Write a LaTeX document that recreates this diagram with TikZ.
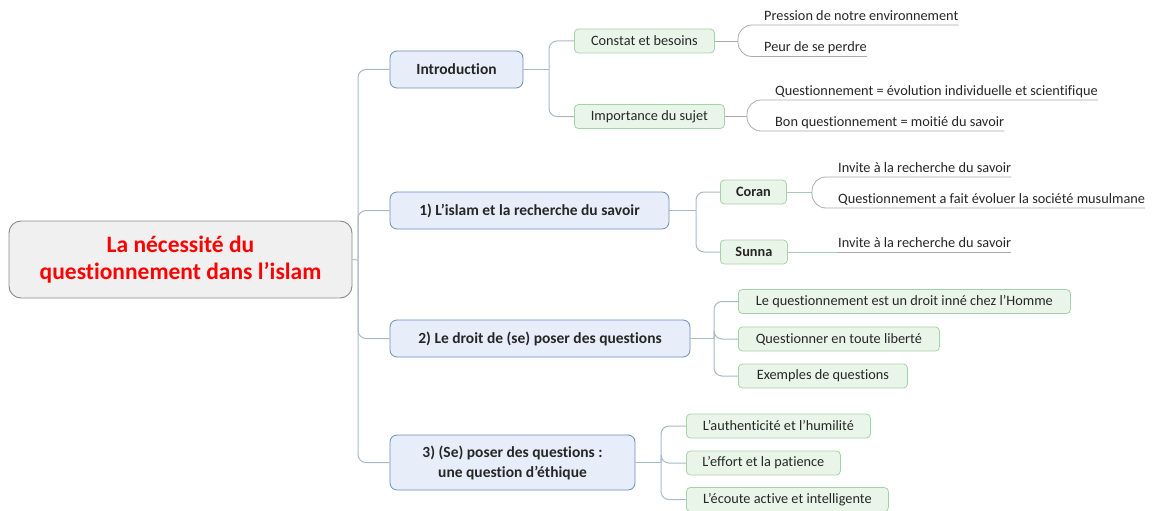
\documentclass[tikz,border=0pt]{standalone}
\usepackage{fontspec}
\setmainfont{Carlito}[Ligatures=NoCommon]
\usetikzlibrary{positioning}
\definecolor{rootfill}{HTML}{F0F0F0}
\definecolor{rootedge}{HTML}{8A8A8A}
\definecolor{secfill}{HTML}{E7EEF9}
\definecolor{secedge}{HTML}{6A8DBA}
\definecolor{subfill}{HTML}{EAF5EA}
\definecolor{subedge}{HTML}{A6D2A8}
\definecolor{trunkcol}{HTML}{A9B8C9}
\definecolor{subline}{HTML}{A8CDB4}
\definecolor{leafcol}{HTML}{ABABAB}
\definecolor{inkcol}{HTML}{262626}
\tikzset{
  rootbox/.style={draw=rootedge,fill=rootfill,line width=0.9pt,rounded corners=12pt,
    minimum width=343,minimum height=77,align=center,text=red,
    font=\bfseries\fontsize{23.5}{27}\selectfont},
  secbox/.style={draw=secedge,fill=secfill,line width=0.8pt,rounded corners=7pt,
    minimum height=37,align=center,text=inkcol,font=\bfseries\fontsize{15.5}{20}\selectfont},
  subbox/.style={draw=subedge,fill=subfill,line width=0.8pt,rounded corners=4pt,
    minimum height=24,anchor=west,text=inkcol,font=\fontsize{14.3}{16}\selectfont},
  leaf/.style={anchor=south west,inner xsep=0pt,inner ysep=2pt,text depth=2.5pt,
    text=inkcol,font=\fontsize{14.3}{16}\selectfont},
  trunk/.style={draw=trunkcol,line width=1pt,rounded corners=8pt},
  twig/.style={draw=subline,line width=1pt,rounded corners=8pt},
  leafline/.style={draw=leafcol,line width=0.8pt,rounded corners=14pt}
}
\begin{document}
\begin{tikzpicture}[x=1pt,y=-1pt]
\useasboundingbox (0,0) rectangle (1154,511);
\node[rootbox] (root) at (180.5,259.5) {La nécessité du\\questionnement dans l’islam};
\node[secbox,minimum width=133] (intro) at (456.5,69.5) {Introduction};
\node[secbox,minimum width=279] (islam) at (529.5,210.5) {1) L'islam et la recherche du savoir};
\node[secbox,minimum width=300] (droit) at (540,338.5) {2) Le droit de (se) poser des questions};
\node[secbox,minimum width=245,minimum height=55] (ethique) at (512.5,462.5) {3) (Se) poser des questions :\\une question d'éthique};

\coordinate (trunk) at (358,260);
\draw[trunk] (root.east) -- (trunk);
\draw[trunk] (intro.west) -| (trunk) |- (ethique.west);
\draw[trunk] (islam.west) -| (trunk);
\draw[trunk] (droit.west) -| (trunk);

\coordinate (jintro) at (549,69.5);
\coordinate (jislam) at (696,210.5);
\coordinate (jdroit) at (714,338.5);
\coordinate (jethique) at (661,462.5);
\draw[trunk] (intro.east) -- (jintro);
\draw[trunk] (islam.east) -- (jislam);
\draw[trunk] (droit.east) -- (jdroit);
\draw[trunk] (ethique.east) -- (jethique);

\node[subbox,minimum width=140] (constat) at (574,41) {Constat et besoins};
\node[subbox,minimum width=150] (importance) at (574,116.5) {Importance du sujet};
\node[subbox,minimum width=66,font=\bfseries\fontsize{14.3}{16}\selectfont] (coran) at (720,192) {Coran};
\node[subbox,minimum width=67,font=\bfseries\fontsize{14.3}{16}\selectfont] (sunna) at (720,252) {Sunna};
\foreach \n in {constat,importance}
  \draw[trunk] (jintro) |- (\n.west);
\foreach \n in {coran,sunna}
  \draw[trunk] (jislam) |- (\n.west);

\foreach \n/\y/\w/\t in {inne/301.5/332/Le questionnement est un droit inné chez l’Homme,
    liberte/339/201/Questionner en toute liberté,
    exemples/376/169/Exemples de questions}{
  \node[subbox,minimum width=\w] (\n) at (738,\y) {\t};
  \draw[trunk] (jdroit) |- (\n.west);
}
\foreach \n/\y/\w/\t in {authen/426/184/L’authenticité et l’humilité,
    effort/463/154/L’effort et la patience,
    ecoute/499.5/202/L’écoute active et intelligente}{
  \node[subbox,minimum width=\w] (\n) at (686,\y) {\t};
  \draw[trunk] (jethique) |- (\n.west);
}

\node[leaf] (pression) at (764,25) {Pression de notre environnement};
\node[leaf] (peur) at (764,56.5) {Peur de se perdre};
\node[leaf] (evolution) at (775,100) {Questionnement = évolution individuelle et scientifique};
\node[leaf] (moitie) at (775,131) {Bon questionnement = moitié du savoir};
\node[leaf] (invite) at (838,177) {Invite à la recherche du savoir};
\node[leaf] (societe) at (838,208) {Questionnement a fait évoluer la société musulmane};
\node[leaf] (sunnainv) at (838,252) {Invite à la recherche du savoir};

\coordinate (jconstat) at (738,41);
\coordinate (jimportance) at (747,116.5);
\coordinate (jcoran) at (812,192);
\draw[leafline] (constat.east) -- (jconstat);
\draw[leafline] (importance.east) -- (jimportance);
\draw[twig] (coran.east) -- (jcoran);
\foreach \n in {pression,peur}
  \draw[leafline] (jconstat) |- (\n.south east);
\foreach \n in {evolution,moitie}
  \draw[leafline] (jimportance) |- (\n.south east);
\foreach \n in {invite,societe}
  \draw[leafline] (jcoran) |- (\n.south east);
\draw[twig] (sunna.east) -- (sunnainv.south west);
\draw[leafline] (sunnainv.south west) -- (sunnainv.south east);
\end{tikzpicture}
\end{document}
